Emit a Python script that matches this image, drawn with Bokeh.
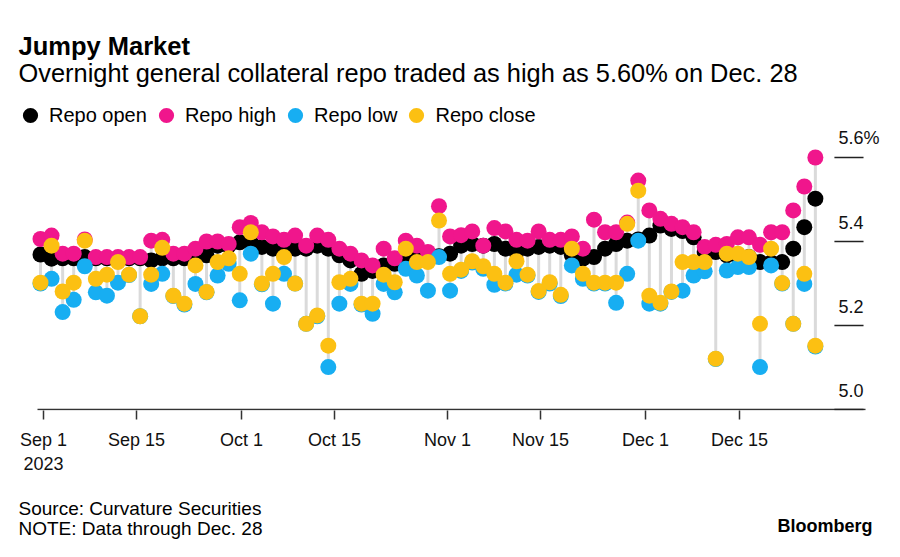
from bokeh.plotting import figure
from bokeh.models import FixedTicker, Label, Legend, LegendItem, Range1d
from bokeh.layouts import column
from bokeh.embed import file_html
from bokeh.resources import INLINE

# ---- data (one column per trading session, Sep 1 .. Dec 28, 2023) ----
session = list(range(71))
repo_open = [5.369, 5.359, 5.360, 5.360, 5.363, 5.360, 5.360, 5.360, 5.360, 5.360,
             5.355, 5.360, 5.360, 5.360, 5.365, 5.367, 5.390, 5.390, 5.398, 5.398,
             5.387, 5.383, 5.383, 5.383, 5.383, 5.390, 5.383, 5.367, 5.355, 5.323,
             5.330, 5.343, 5.347, 5.359, 5.360, 5.360, 5.365, 5.371, 5.390, 5.394,
             5.390, 5.394, 5.383, 5.375, 5.383, 5.387, 5.390, 5.387, 5.367, 5.359,
             5.363, 5.383, 5.394, 5.402, 5.405, 5.414, 5.438, 5.430, 5.425, 5.410,
             5.375, 5.375, 5.367, 5.365, 5.363, 5.351, 5.350, 5.351, 5.383, 5.434,
             5.502]
repo_high = [5.406, 5.414, 5.371, 5.371, 5.405, 5.363, 5.363, 5.363, 5.363, 5.363,
             5.402, 5.404, 5.371, 5.371, 5.383, 5.400, 5.400, 5.394, 5.434, 5.444,
             5.422, 5.412, 5.404, 5.414, 5.390, 5.414, 5.404, 5.383, 5.371, 5.355,
             5.343, 5.383, 5.360, 5.402, 5.390, 5.375, 5.484, 5.412, 5.415, 5.424,
             5.390, 5.432, 5.424, 5.404, 5.402, 5.424, 5.404, 5.404, 5.412, 5.383,
             5.452, 5.422, 5.422, 5.445, 5.545, 5.474, 5.454, 5.442, 5.434, 5.422,
             5.387, 5.392, 5.394, 5.410, 5.410, 5.392, 5.422, 5.422, 5.474, 5.531,
             5.600]
repo_low = [5.300, 5.311, 5.232, 5.261, 5.341, 5.279, 5.271, 5.302, 5.320, 5.222,
            5.299, 5.323, 5.270, 5.250, 5.299, 5.279, 5.319, 5.347, 5.260, 5.371,
            5.298, 5.252, 5.323, 5.300, 5.204, 5.222, 5.101, 5.252, 5.299, 5.250,
            5.228, 5.299, 5.279, 5.335, 5.319, 5.283, 5.363, 5.283, 5.330, 5.350,
            5.335, 5.297, 5.300, 5.321, 5.319, 5.280, 5.300, 5.270, 5.343, 5.311,
            5.300, 5.300, 5.254, 5.323, 5.402, 5.252, 5.252, 5.280, 5.283, 5.319,
            5.329, 5.120, 5.331, 5.339, 5.339, 5.101, 5.343, 5.300, 5.204, 5.299,
            5.150]
repo_close = [5.302, 5.390, 5.281, 5.302, 5.402, 5.311, 5.321, 5.351, 5.321, 5.222,
              5.321, 5.385, 5.271, 5.252, 5.343, 5.280, 5.351, 5.360, 5.323, 5.422,
              5.300, 5.323, 5.363, 5.300, 5.204, 5.224, 5.152, 5.303, 5.311, 5.252,
              5.252, 5.321, 5.303, 5.383, 5.351, 5.351, 5.450, 5.323, 5.333, 5.353,
              5.341, 5.323, 5.302, 5.353, 5.321, 5.282, 5.303, 5.273, 5.383, 5.323,
              5.302, 5.302, 5.302, 5.442, 5.521, 5.271, 5.254, 5.281, 5.351, 5.351,
              5.351, 5.121, 5.371, 5.371, 5.363, 5.204, 5.383, 5.301, 5.204, 5.323,
              5.152]

tick_sessions = [0.27, 8.67, 18.16, 26.56, 36.77, 45.17, 54.65, 63.14]
tick_labels = ["Sep 1\n2023", "Sep 15", "Oct 1", "Oct 15", "Nov 1", "Nov 15", "Dec 1", "Dec 15"]
y_ticks = [5.0, 5.2, 5.4, 5.6]
y_tick_labels = ["5.0", "5.2", "5.4", "5.6%"]

series_names = ["Repo open", "Repo high", "Repo low", "Repo close"]
series_colors = ["#000000", "#F0168C", "#17AEF2", "#FCC012"]

FONT = "Liberation Sans"
AXIS_COLOR = "#333333"

# main figure: the frame spans the whole width and the area down to the baseline
p = figure(width=900, height=480, output_backend="svg", toolbar_location=None,
           x_range=Range1d(-3.613, 77.69), y_range=Range1d(4.9976, 5.9738),
           y_axis_location=None,
           min_border_left=0, min_border_right=0, min_border_top=0, min_border_bottom=70)
p.outline_line_color = None
p.xgrid.visible = False
p.ygrid.visible = False

# stems low -> high
p.segment(x0=session, y0=repo_low, x1=session, y1=repo_high, line_color="#DADADA", line_width=3)

renderers = []
for vals, col in zip([repo_open, repo_high, repo_low, repo_close], series_colors):
    r = p.scatter(x=session, y=vals, size=16, fill_color=col, line_color=None)
    renderers.append(r)

legend = Legend(items=[LegendItem(label=n, renderers=[r]) for n, r in zip(series_names, renderers)],
                orientation="horizontal", location=(11, 276),
                glyph_width=38, glyph_height=38, label_standoff=0, spacing=0,
                padding=0, margin=0, border_line_color=None, background_fill_alpha=0,
                label_text_font_size="20px", label_text_font=FONT, label_text_color="#000000")
p.add_layout(legend)

# baseline of the chart and the short value gridmarks at the right
x_lo, x_hi = -0.271, 74.53
p.segment(x0=[x_lo], y0=[y_ticks[0]], x1=[x_hi], y1=[y_ticks[0]], line_color=AXIS_COLOR, line_width=1.5)
p.segment(x0=[71.72] * len(y_ticks), y0=y_ticks, x1=[74.35] * len(y_ticks), y1=y_ticks,
          line_color="#222222", line_width=1.5)

for v, t in zip(y_ticks, y_tick_labels):
    p.add_layout(Label(x=838, x_units="screen", y=v, y_units="data", text=t,
                       y_offset=19, text_baseline="middle", text_font=FONT,
                       text_font_size="18px", text_color="#111111"))

# x axis (dates)
xa = p.xaxis[0]
xa.ticker = FixedTicker(ticks=tick_sessions)
xa.major_label_overrides = {t: l for t, l in zip(tick_sessions, tick_labels)}
xa.major_tick_out = 9
xa.major_tick_in = 0
xa.minor_tick_line_color = None
xa.axis_line_color = None
xa.major_tick_line_color = AXIS_COLOR
xa.major_tick_line_width = 1.5
xa.major_label_text_font = FONT
xa.major_label_text_font_size = "18px"
xa.major_label_text_color = "#111111"
xa.major_label_standoff = 10


def add_text(fig, x, y, text, size, bold=False, align="left"):
    fig.add_layout(Label(x=x, y=y, x_units="screen", y_units="screen", text=text,
                         text_font=FONT, text_font_size=size,
                         text_font_style="bold" if bold else "normal",
                         text_align=align, text_baseline="middle", text_color="#000000"))


add_text(p, 18, 365, "Jumpy Market", "25.5px", bold=True)
add_text(p, 18, 338, "Overnight general collateral repo traded as high as 5.60% on Dec. 28", "25.4px")

# footer
f = figure(width=900, height=77, output_backend="svg", toolbar_location=None,
           x_range=Range1d(0, 900), y_range=Range1d(0, 77),
           x_axis_location=None, y_axis_location=None,
           min_border_left=0, min_border_right=0, min_border_top=0, min_border_bottom=0)
f.outline_line_color = None
f.xgrid.visible = False
f.ygrid.visible = False
add_text(f, 18, 49, "Source: Curvature Securities", "19px")
add_text(f, 18, 29, "NOTE: Data through Dec. 28", "19px")
add_text(f, 872, 32, "Bloomberg", "18px", bold=True, align="right")

layout = column(p, f, spacing=0)
open("out.html", "w").write(file_html(layout, INLINE))
